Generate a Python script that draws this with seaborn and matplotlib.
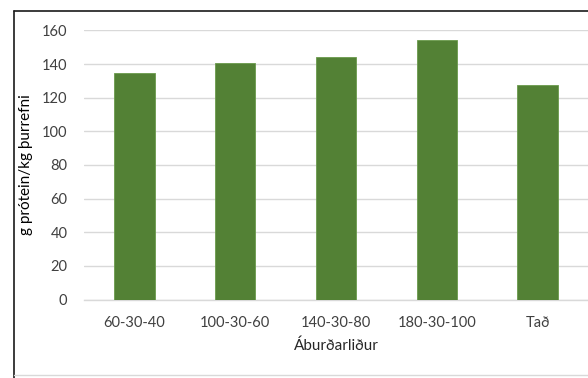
import matplotlib
matplotlib.use("Agg")
import matplotlib.pyplot as plt
import seaborn as sns
import pandas as pd
from matplotlib.lines import Line2D

categories = ["60-30-40", "100-30-60", "140-30-80", "180-30-100", "Tað"]
protein = [134.5, 140.8, 144.2, 154.3, 127.3]
yticks = [0, 20, 40, 60, 80, 100, 120, 140, 160]

df = pd.DataFrame({"lidur": categories, "protein": protein})

sns.set_theme(style="white")
plt.rcParams["font.family"] = ["Lato", "DejaVu Sans"]

fig = plt.figure(figsize=(5.88, 3.78), dpi=100)
W, H = 588, 378
ax = fig.add_axes([84 / W, 1 - 299.5 / H, (588 - 84) / W, (299.5 - 30.4) / H])

sns.barplot(data=df, x="lidur", y="protein", color="#538135", width=0.4,
            saturation=1, edgecolor="#6a9a4c", linewidth=0.6, ax=ax, zorder=3)

ax.set_ylim(0, 160)
ax.set_xlim(-0.5, len(categories) - 0.5)
ax.set_yticks(yticks)
ax.yaxis.grid(True, color="#d9d9d9", linewidth=1.0, zorder=0)
ax.set_axisbelow(True)
for side in ["top", "right", "left"]:
    ax.spines[side].set_visible(False)
ax.spines["bottom"].set_color("#d9d9d9")
ax.spines["bottom"].set_linewidth(1.0)
ax.tick_params(axis="both", length=0, labelsize=10.5, colors="#404040")
ax.tick_params(axis="y", pad=12)
ax.tick_params(axis="x", pad=12)

ax.set_xlabel("Áburðarliður", fontsize=11, color="#262626", labelpad=6)
ax.set_ylabel("g prótein/kg þurrefni", fontsize=11, color="#000000")
ax.yaxis.set_label_coords((33 - 84) / 504, 0.5)

# chart-area border
fig.add_artist(Line2D([13.5 / W, 13.5 / W], [0, 1 - 11 / H], transform=fig.transFigure,
                      color="#1a1a1a", linewidth=1.2))
fig.add_artist(Line2D([13.5 / W, 1], [1 - 11 / H, 1 - 11 / H], transform=fig.transFigure,
                      color="#1a1a1a", linewidth=1.2))
fig.add_artist(Line2D([13.5 / W, 1], [1 - 375 / H, 1 - 375 / H], transform=fig.transFigure,
                      color="#d9d9d9", linewidth=1.0))

fig.savefig("out.png", dpi=100)
